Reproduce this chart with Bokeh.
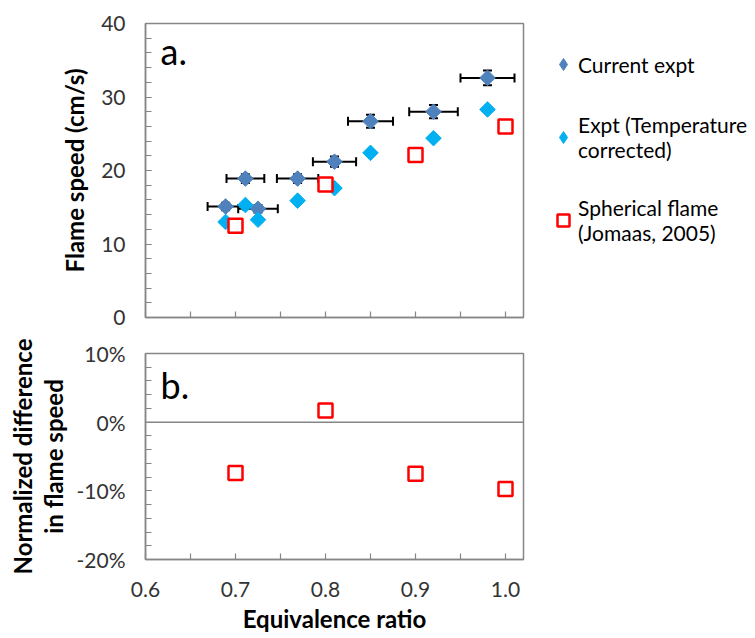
import math
from bokeh.plotting import figure
from bokeh.models import (Range1d, FixedTicker, Whisker, TeeHead, ColumnDataSource,
                          Span, Label, Legend, LegendItem, NumeralTickFormatter)
from bokeh.layouts import column
from bokeh.embed import file_html
from bokeh.resources import INLINE

# ---------------- data ----------------
phi_expt = [0.689, 0.711, 0.725, 0.769, 0.810, 0.850, 0.920, 0.980]
speed_expt = [15.1, 18.9, 14.8, 18.9, 21.2, 26.7, 28.0, 32.6]
phi_err = [0.020, 0.021, 0.022, 0.023, 0.024, 0.025, 0.027, 0.030]
speed_err = [0.5, 0.6, 0.5, 0.6, 0.7, 0.9, 0.9, 1.0]
speed_corrected = [13.0, 15.3, 13.3, 15.9, 17.6, 22.4, 24.4, 28.3]
phi_spherical = [0.7, 0.8, 0.9, 1.0]
speed_spherical = [12.5, 18.1, 22.1, 26.0]
norm_diff = [-0.074, 0.017, -0.075, -0.0975]

x_ticks = [0.6, 0.7, 0.8, 0.9, 1.0]
x_minor = [0.65, 0.75, 0.85, 0.95]
y1_ticks = [0, 10, 20, 30, 40]
y2_ticks = [-0.2, -0.1, 0.0, 0.1]

series_names = ["Current expt", "Expt (Temperature\ncorrected)", "Spherical flame\n(Jomaas, 2005)"]

# ---------------- style ----------------
FONT = "Lato"
AXIS_GRAY = "#868686"
TEXT = "#333333"
C_EXPT = "#4F81BD"
C_CORR = "#00B0F0"
C_SPH = "#FF0000"


def style(p):
    p.xgrid.visible = False
    p.ygrid.visible = False
    p.outline_line_color = AXIS_GRAY
    p.outline_line_width = 1.5
    for ax in (p.xaxis[0], p.yaxis[0]):
        ax.axis_line_color = AXIS_GRAY
        ax.axis_line_width = 1.5
        ax.major_tick_line_color = AXIS_GRAY
        ax.minor_tick_line_color = AXIS_GRAY
        ax.major_tick_line_width = 1.2
        ax.minor_tick_line_width = 1.2
        ax.major_tick_in = 6
        ax.major_tick_out = 0
        ax.minor_tick_in = 6
        ax.minor_tick_out = 0
        ax.major_label_text_font = FONT
        ax.major_label_text_font_size = "21px"
        ax.major_label_text_color = TEXT
        ax.axis_label_text_font = FONT
        ax.axis_label_text_font_style = "bold"
        ax.axis_label_text_font_size = "24px"
        ax.axis_label_text_color = "black"
    p.yaxis[0].major_label_standoff = 20
    p.xaxis[0].major_label_standoff = 22


# ---------------- top panel ----------------
p1 = figure(frame_width=378, frame_height=294, x_range=Range1d(0.6, 1.02), y_range=Range1d(0, 40),
            output_backend="svg", toolbar_location=None,
            min_border_left=145, min_border_right=232, min_border_top=23, min_border_bottom=19)
style(p1)
p1.xaxis.ticker = FixedTicker(ticks=x_ticks, minor_ticks=x_minor)
p1.xaxis.major_label_overrides = {t: "" for t in x_ticks}
p1.yaxis.ticker = FixedTicker(ticks=y1_ticks, minor_ticks=list(range(0, 41, 2)))
p1.yaxis.axis_label = "Flame speed (cm/s)"
p1.yaxis.axis_label_standoff = 9

src = ColumnDataSource(dict(
    phi=phi_expt, s=speed_expt,
    phi_lo=[a - e for a, e in zip(phi_expt, phi_err)],
    phi_hi=[a + e for a, e in zip(phi_expt, phi_err)],
    s_lo=[a - e for a, e in zip(speed_expt, speed_err)],
    s_hi=[a + e for a, e in zip(speed_expt, speed_err)],
    s_corr=speed_corrected,
))
src_sph = ColumnDataSource(dict(phi=phi_spherical, s=speed_spherical, d=norm_diff))

for dim, base, lo, hi in (("width", "s", "phi_lo", "phi_hi"), ("height", "phi", "s_lo", "s_hi")):
    w = Whisker(source=src, base=base, lower=lo, upper=hi, dimension=dim,
                line_color="black", line_width=2, level="underlay",
                upper_head=TeeHead(size=9, line_color="black", line_width=2),
                lower_head=TeeHead(size=9, line_color="black", line_width=2))
    p1.add_layout(w)

# diamond-marker twins (hidden under the rotated squares) give the legend its diamond swatches
k_expt = p1.scatter("phi", "s", source=src, marker="diamond", size=10,
                    fill_color=C_EXPT, line_color=C_EXPT)
k_corr = p1.scatter("phi", "s_corr", source=src, marker="diamond", size=10,
                    fill_color=C_CORR, line_color=C_CORR)

r_expt = p1.scatter("phi", "s", source=src, marker="square", angle=math.pi / 4, size=11,
                    fill_color=C_EXPT, line_color=C_EXPT)
r_corr = p1.scatter("phi", "s_corr", source=src, marker="square", angle=math.pi / 4, size=11,
                    fill_color=C_CORR, line_color=C_CORR)
r_sph = p1.scatter("phi", "s", source=src_sph, marker="square", size=14,
                   fill_color="white", line_color=C_SPH, line_width=2.5)

p1.add_layout(Label(x=0.6167, y=36.2, text="a.", text_font=FONT, text_font_size="36px",
                    text_color="black", text_baseline="alphabetic"))

legend = Legend(items=[LegendItem(label=series_names[0], renderers=[k_expt]),
                       LegendItem(label=series_names[1], renderers=[k_corr]),
                       LegendItem(label=series_names[2], renderers=[r_sph])],
                location=(25, 72), border_line_color=None, background_fill_alpha=0,
                padding=0, margin=0, spacing=33, glyph_width=30, glyph_height=30,
                label_standoff=0, label_height=27, label_text_font=FONT,
                label_text_font_size="21px", label_text_color="black",
                label_text_line_height=1.3)
p1.add_layout(legend, "right")

# ---------------- bottom panel ----------------
p2 = figure(frame_width=378, frame_height=206, x_range=Range1d(0.6, 1.02), y_range=Range1d(-0.2, 0.1),
            output_backend="svg", toolbar_location=None,
            min_border_left=145, min_border_right=232, min_border_top=17, min_border_bottom=79)
style(p2)
p2.xaxis.ticker = FixedTicker(ticks=x_ticks, minor_ticks=x_minor)
p2.xaxis.formatter = NumeralTickFormatter(format="0.0")
p2.yaxis.ticker = FixedTicker(ticks=y2_ticks, minor_ticks=[i / 100 for i in range(-20, 11, 2)])
p2.yaxis.formatter = NumeralTickFormatter(format="0%")
p2.xaxis.axis_label = "Equivalence ratio"
p2.xaxis.axis_label_standoff = 4
p2.yaxis.axis_label = "Normalized difference\nin flame speed"
p2.yaxis.axis_label_standoff = 6
p2.yaxis.axis_label_text_line_height = 1.05

p2.add_layout(Span(location=0, dimension="width", line_color=AXIS_GRAY, line_width=1.5))
p2.scatter("phi", "d", source=src_sph, marker="square", size=14,
           fill_color="white", line_color=C_SPH, line_width=2.5)
p2.add_layout(Label(x=0.6167, y=0.054, text="b.", text_font=FONT, text_font_size="36px",
                    text_color="black", text_baseline="alphabetic"))

layout = column(p1, p2, spacing=0)
open("out.html", "w").write(file_html(layout, INLINE))
